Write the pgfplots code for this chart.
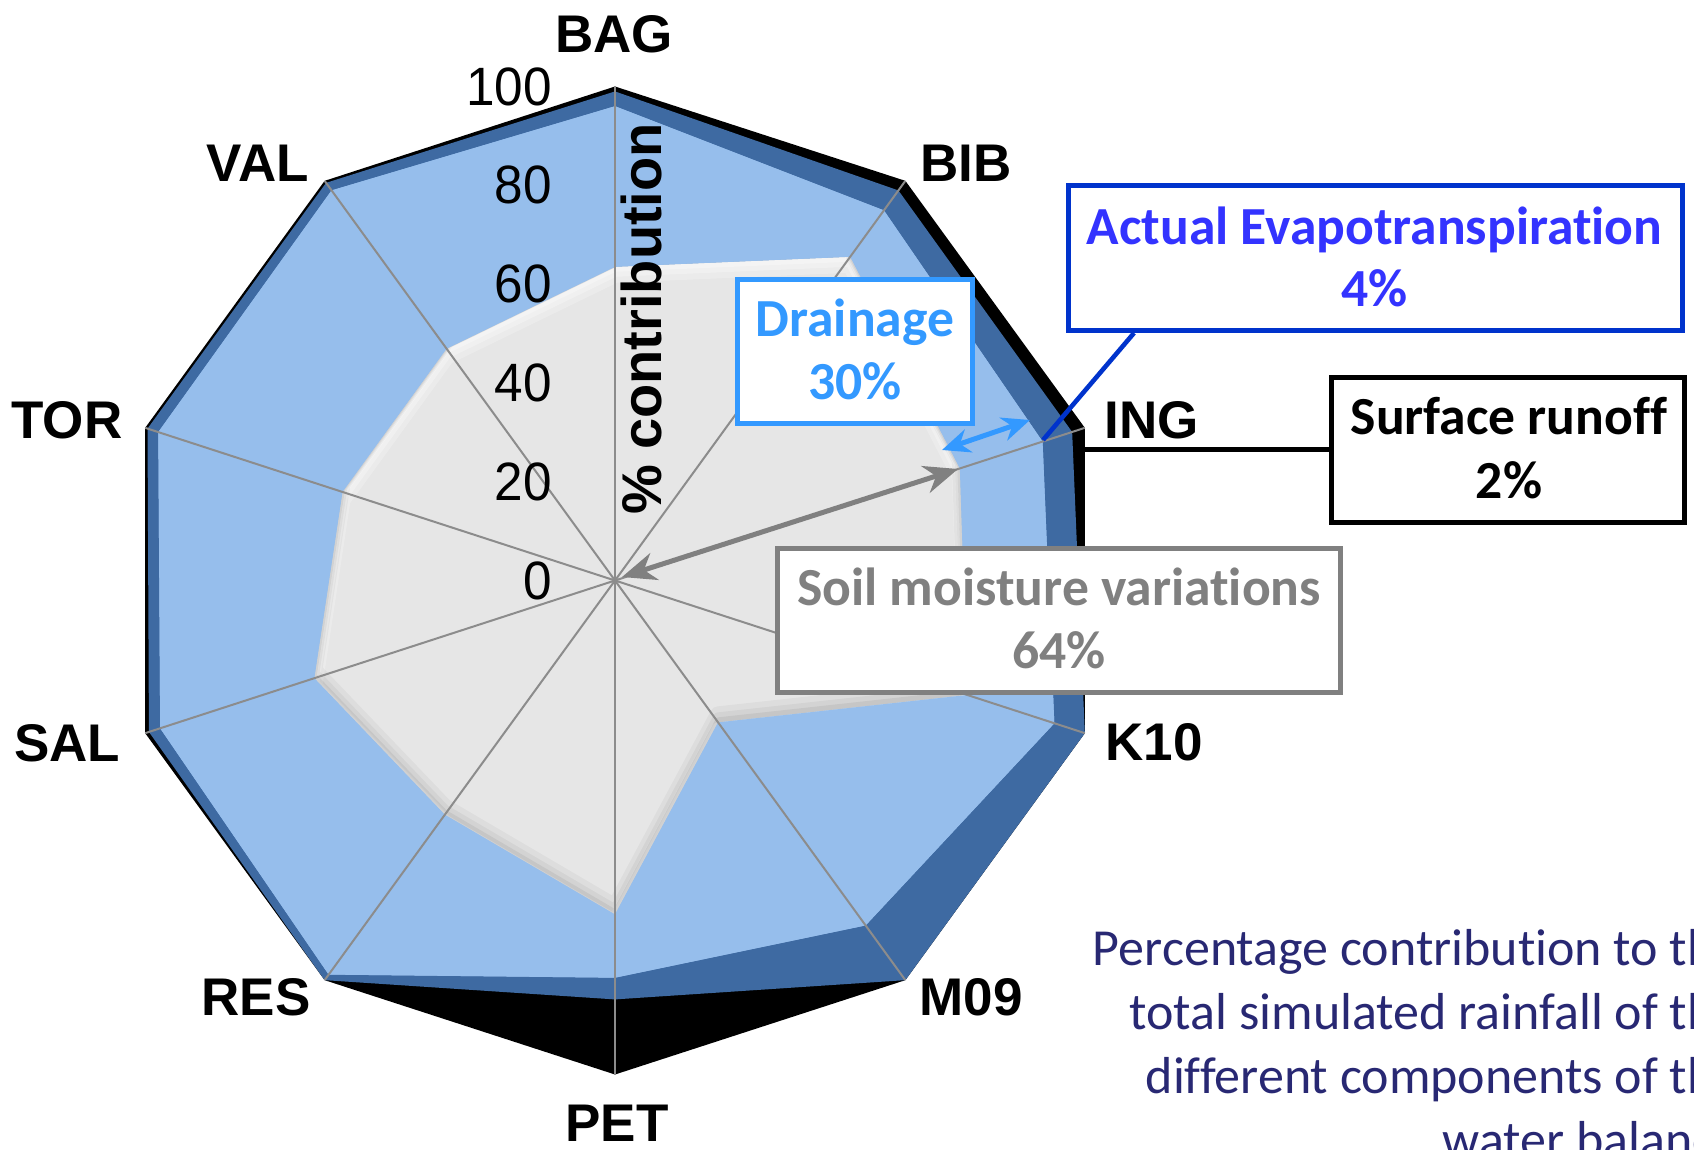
\documentclass[border=0pt]{standalone}
\usepackage{pgfplots}
\pgfplotsset{compat=1.18}
\usepackage{pgfplotstable}
\usepackage{fontspec}
\setmainfont{Liberation Sans}
\newfontfamily\calib[Ligatures=NoCommon]{Carlito}
\usetikzlibrary{arrows.meta}

\definecolor{soilgrey}{RGB}{230,230,230}
\definecolor{drainblue}{RGB}{150,190,236}
\definecolor{aetblue}{RGB}{62,106,162}
\definecolor{spoke}{RGB}{140,140,140}
\definecolor{boxdrain}{RGB}{51,153,255}
\definecolor{boxaet}{RGB}{0,51,204}
\definecolor{txtaet}{RGB}{51,51,255}
\definecolor{txtsoil}{RGB}{128,128,128}
\definecolor{captionnavy}{RGB}{40,40,115}

% share of the simulated rainfall taken by each water-balance component (%)
% angle: direction of the basin's spoke, clockwise from the top
\pgfplotstableread{
basin angle soil drain aet runoff
BAG   90    63.5 32.5  3.0  1.0
BIB   54    81.0 11.6  5.0  2.4
ING   18    73.4 17.6  6.3  2.7
K10  -18    75.0 18.5  6.5  0.0
M09  -54    35.5 50.8 13.7  0.0
PET  -90    67.6 12.8  4.4 15.2
RES -126    58.6 40.0  1.4  0.0
SAL -162    64.0 32.8  2.4  0.8
TOR -198    58.0 39.2  2.3  0.5
VAL -234    58.0 39.6  1.9  0.5
BAG -270    63.5 32.5  3.0  1.0
}\balance
% outer edge of each stacked layer
\pgfplotstablecreatecol[expr={\thisrow{soil}+\thisrow{drain}}]{upD}\balance
\pgfplotstablecreatecol[expr={\thisrow{upD}+\thisrow{aet}}]{upA}\balance
\pgfplotstablecreatecol[expr={\thisrow{upA}+\thisrow{runoff}}]{upR}\balance

% ring between the drainage edge and the soil-moisture edge (outer loop, then inner loop)
\pgfplotstablenew[
  create on use/angle/.style={copy column from table={\balance}{angle}},
  create on use/r/.style={copy column from table={\balance}{upD}},
  columns={angle,r}]{11}\ringD
\pgfplotstablenew[
  create on use/angle/.style={copy column from table={\balance}{angle}},
  create on use/r/.style={copy column from table={\balance}{soil}},
  columns={angle,r}]{11}\ringS
\pgfplotstablevertcat{\ringD}{\ringS}

\pgfplotsset{
  bevel/.style n args={3}{draw=#1, draw opacity=#2, line width=#3, line join=round},
}

\begin{document}
\begin{tikzpicture}[x=0.5pt,y=-0.5pt]
\useasboundingbox (0,0) rectangle (1694,1150);
\clip (0,0) rectangle (1694,1150);

\begin{axis}[
  hide axis, clip=false,
  x=2.47pt, y=2.47pt,
  xmin=-100, xmax=100, ymin=-100, ymax=100,
  anchor=center, at={(307.5pt,-290.25pt)},
  data cs=polar,
]
\addplot[fill=black, draw=none] table[x=angle, y=upR] {\balance};
\addplot[fill=aetblue, draw=none] table[x=angle, y=upA] {\balance};
\addplot[fill=drainblue, draw=none] table[x=angle, y=upD] {\balance};
\addplot[fill=soilgrey, draw=none] table[x=angle, y=soil] {\balance};
% soft bevel of the soil-moisture area: light upper edges, shaded lower edges
\addplot[bevel={white}{0.22}{8pt}, yshift=-4pt] table[x=angle, y=soil] {\balance};
\addplot[bevel={white}{0.28}{5pt}, yshift=-2.5pt] table[x=angle, y=soil] {\balance};
\addplot[bevel={white}{0.3}{2.5pt}, yshift=-1.25pt] table[x=angle, y=soil] {\balance};
\addplot[bevel={black}{0.035}{8pt}, yshift=4pt] table[x=angle, y=soil] {\balance};
\addplot[bevel={black}{0.045}{5pt}, yshift=2.5pt] table[x=angle, y=soil] {\balance};
\addplot[bevel={black}{0.06}{2.5pt}, yshift=1.25pt] table[x=angle, y=soil] {\balance};
% keep the drainage band itself clean
\addplot[fill=drainblue, draw=none, even odd rule] table[x=angle, y=r] {\ringD};
\pgfplotsinvokeforeach{90,54,18,-18,-54,-90,-126,-162,-198,-234}{
  \addplot[spoke, line width=1pt] coordinates {(#1,0) (#1,100)};
}
\end{axis}

% radial scale
\begin{scope}[every node/.style={anchor=east, inner sep=0pt, font=\fontsize{27}{27}\selectfont, xscale=0.95}]
\node at (552,580.5) {0};
\node at (552,481.7) {20};
\node at (552,382.9) {40};
\node at (552,284.1) {60};
\node at (552,185.3) {80};
\node at (552,86.5) {100};
\end{scope}
\node[rotate=90, anchor=base, inner sep=0pt, font=\fontsize{28}{28}\selectfont\bfseries] at (661,319) {\% contribution};

% basin names
\begin{scope}[every node/.style={inner sep=0pt, font=\fontsize{26.5}{26.5}\selectfont\bfseries}]
\node at (614,34.5) {BAG};
\node at (966,163) {BIB};
\node at (1152,420) {ING};
\node at (1154,742) {K10};
\node at (971,997) {M09};
\node at (617,1123) {PET};
\node at (256,997) {RES};
\node at (67,743) {SAL};
\node at (67,420) {TOR};
\node at (258,163) {VAL};
\end{scope}

% call-outs
\draw[txtsoil, line width=2.5pt, {Stealth[length=17pt,width=14pt]}-{Stealth[length=17pt,width=14pt]}] (622,577) -- (958,469);
\draw[boxdrain, line width=2.5pt, {Stealth[length=14pt,width=12pt]}-{Stealth[length=14pt,width=12pt]}] (942,450) -- (1030,420);
\draw[boxaet, line width=2.3pt] (1134,333) -- (1043,440);
\draw[black, line width=2.5pt] (1085,450) -- (1330,450);

\begin{scope}[every node/.style={inner sep=0pt, anchor=base, font=\calib\fontsize{26.8}{26.8}\selectfont\bfseries}]
\draw[boxdrain, line width=2.5pt, fill=white] (737.5,280) rectangle (972.5,424);
\node[boxdrain] at (855,337) {Drainage};
\node[boxdrain] at (855,400) {30\%};

\draw[boxaet, line width=2.5pt, fill=white] (1068,186) rectangle (1682,331);
\node[txtaet] at (1374.5,245) {Actual Evapotranspiration};
\node[txtaet] at (1374.5,306.7) {4\%};

\draw[black, line width=2.5pt, fill=white] (1331,377.5) rectangle (1684,522.5);
\node[black] at (1509,435) {Surface runoff};
\node[black] at (1509,498.3) {2\%};

\draw[txtsoil, line width=2.5pt, fill=white] (777.5,548) rectangle (1340,692);
\node[txtsoil] at (1059,605) {Soil moisture variations};
\node[txtsoil] at (1059,668.3) {64\%};
\end{scope}

% caption (runs past the right edge)
\begin{scope}[every node/.style={inner sep=0pt, anchor=base east, text=captionnavy, font=\calib\fontsize{26}{26}\selectfont}]
\node at (1741,965) {Percentage contribution to the};
\node at (1741,1029) {total simulated rainfall of the};
\node at (1741,1093) {different components of the};
\node at (1741,1157) {water balance};
\end{scope}
\end{tikzpicture}
\end{document}
